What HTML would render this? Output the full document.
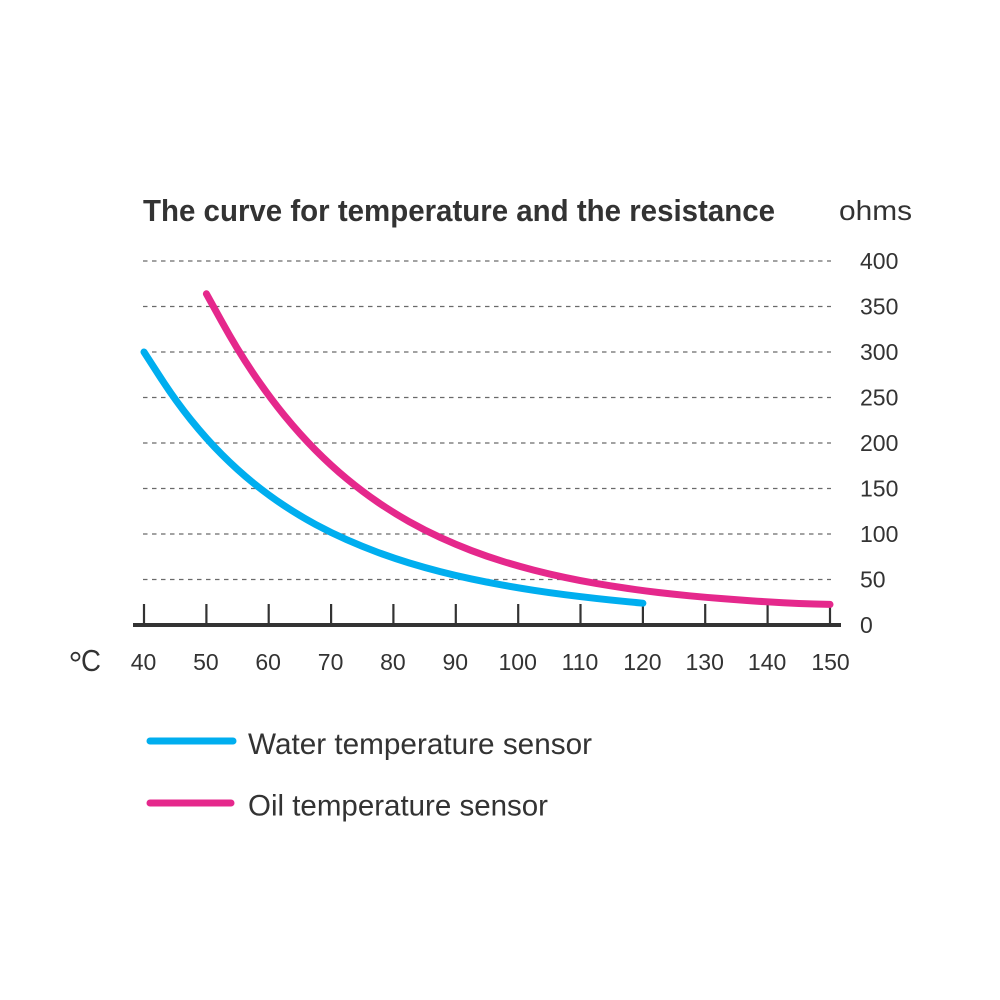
<!DOCTYPE html>
<html>
<head>
<meta charset="utf-8">
<style>
  html, body { margin:0; padding:0; background:#ffffff; }
  svg { display:block; }
  text { font-family: "Liberation Sans", "DejaVu Sans", sans-serif; fill:#333333; }
</style>
</head>
<body>
<svg width="1000" height="1000" viewBox="0 0 1000 1000" xmlns="http://www.w3.org/2000/svg">
  <rect width="1000" height="1000" fill="#ffffff"/>

  <!-- Title -->
  <text x="143" y="221" font-size="31" font-weight="bold" textLength="632" lengthAdjust="spacingAndGlyphs">The curve for temperature and the resistance</text>
  <text x="839" y="220" font-size="28" textLength="73" lengthAdjust="spacingAndGlyphs">ohms</text>

  <!-- gridlines -->
  <g stroke="#6a6a6a" stroke-width="1.3" stroke-dasharray="4.5 4.5">
    <line x1="143" y1="261" x2="831" y2="261"/>
    <line x1="143" y1="306.5" x2="831" y2="306.5"/>
    <line x1="143" y1="352" x2="831" y2="352"/>
    <line x1="143" y1="397.5" x2="831" y2="397.5"/>
    <line x1="143" y1="443" x2="831" y2="443"/>
    <line x1="143" y1="488.5" x2="831" y2="488.5"/>
    <line x1="143" y1="534" x2="831" y2="534"/>
    <line x1="143" y1="579.5" x2="831" y2="579.5"/>
  </g>

  <!-- Y labels -->
  <g font-size="23">
    <text x="860" y="269">400</text>
    <text x="860" y="314.5">350</text>
    <text x="860" y="360">300</text>
    <text x="860" y="405.5">250</text>
    <text x="860" y="451">200</text>
    <text x="860" y="496.5">150</text>
    <text x="860" y="542">100</text>
    <text x="860" y="587.5">50</text>
    <text x="860" y="633">0</text>
  </g>

  <!-- axis -->
  <line x1="133" y1="625" x2="841" y2="625" stroke="#333333" stroke-width="4"/>
  <g stroke="#333333" stroke-width="2.2">
    <line x1="144" y1="604" x2="144" y2="625"/>
    <line x1="206.4" y1="604" x2="206.4" y2="625"/>
    <line x1="268.7" y1="604" x2="268.7" y2="625"/>
    <line x1="331.1" y1="604" x2="331.1" y2="625"/>
    <line x1="393.4" y1="604" x2="393.4" y2="625"/>
    <line x1="455.8" y1="604" x2="455.8" y2="625"/>
    <line x1="518.2" y1="604" x2="518.2" y2="625"/>
    <line x1="580.5" y1="604" x2="580.5" y2="625"/>
    <line x1="642.9" y1="604" x2="642.9" y2="625"/>
    <line x1="705.2" y1="604" x2="705.2" y2="625"/>
    <line x1="767.6" y1="604" x2="767.6" y2="625"/>
    <line x1="830" y1="604" x2="830" y2="625"/>
  </g>

  <!-- X labels -->
  <g font-size="23" text-anchor="middle">
    <text x="143.5" y="670">40</text>
    <text x="205.9" y="670">50</text>
    <text x="268.2" y="670">60</text>
    <text x="330.6" y="670">70</text>
    <text x="392.9" y="670">80</text>
    <text x="455.3" y="670">90</text>
    <text x="517.7" y="670">100</text>
    <text x="580" y="670">110</text>
    <text x="642.4" y="670">120</text>
    <text x="704.7" y="670">130</text>
    <text x="767.1" y="670">140</text>
    <text x="830.5" y="670">150</text>
  </g>

  <!-- degree C -->
  <circle cx="75.5" cy="656.7" r="4" fill="none" stroke="#333333" stroke-width="1.8"/>
  <text x="81" y="671" font-size="31" textLength="20" lengthAdjust="spacingAndGlyphs">C</text>

  <!-- curves -->
  <path fill="none" stroke="#00AEEF" stroke-width="7" stroke-linecap="round" stroke-linejoin="round"
    d="M144,352 L159.6,376.2 Q175.2,400.4 190.8,419.75 Q206.4,439.1 221.95,454.65 Q237.5,470.2 253.1,482.8 Q268.7,495.4 284.3,505.7 Q299.9,516 315.5,524.4 Q331.1,532.8 346.7,539.7 Q362.3,546.6 377.85,552.35 Q393.4,558.1 409,562.85 Q424.6,567.6 440.2,571.6 Q455.8,575.6 471.4,578.95 Q487,582.3 502.6,585.1 Q518.2,587.9 533.75,590.3 Q549.3,592.7 564.9,594.7 Q580.5,596.7 596.1,598.45 Q611.7,600.2 627.3,601.7 L642.9,603.2"/>
  <path fill="none" stroke="#E5288C" stroke-width="7" stroke-linecap="round" stroke-linejoin="round"
    d="M206.4,293.8 L221.95,321.9 Q237.5,350 253.1,373.15 Q268.7,396.3 284.3,415.35 Q299.9,434.4 315.5,450.1 Q331.1,465.8 346.7,478.7 Q362.3,491.6 377.85,502.2 Q393.4,512.8 409,521.55 Q424.6,530.3 440.2,537.45 Q455.8,544.6 471.4,550.55 Q487,556.5 502.6,561.3 Q518.2,566.1 533.75,570.1 Q549.3,574.1 564.9,577.45 Q580.5,580.8 596.1,583.45 Q611.7,586.1 627.3,588.4 Q642.9,590.7 658.45,592.5 Q674,594.3 689.6,595.8 Q705.2,597.3 720.8,598.55 Q736.4,599.8 752,600.85 Q767.6,601.9 783.2,602.7 Q798.8,603.5 814.4,603.95 L830,604.4"/>

  <!-- legend -->
  <line x1="150" y1="741" x2="233" y2="741" stroke="#00AEEF" stroke-width="7" stroke-linecap="round"/>
  <text x="248" y="754" font-size="30" textLength="344" lengthAdjust="spacingAndGlyphs">Water temperature sensor</text>
  <line x1="150" y1="803" x2="231" y2="803" stroke="#E5288C" stroke-width="7" stroke-linecap="round"/>
  <text x="248" y="815.5" font-size="30" textLength="300" lengthAdjust="spacingAndGlyphs">Oil temperature sensor</text>
</svg>
</body>
</html>
